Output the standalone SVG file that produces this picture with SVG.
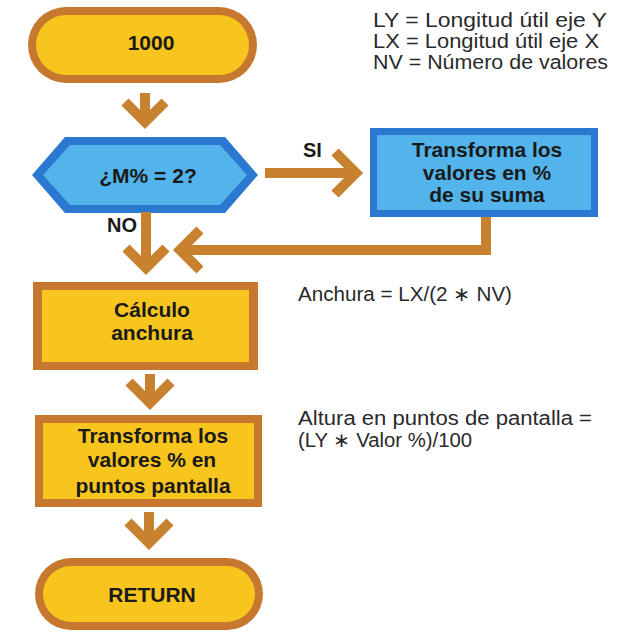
<svg xmlns="http://www.w3.org/2000/svg" width="621" height="632" viewBox="0 0 621 632">
<style>
.ob{fill:#c5782e}
.yf{fill:#f7c51e}
.db{fill:#2b78d0}
.lb{fill:#52b4ea}
.bt{font-family:"Liberation Sans",Arial,sans-serif;font-weight:bold;font-size:21px;fill:#1a1a1a;text-anchor:middle}
.lbl{font-family:"Liberation Sans",Arial,sans-serif;font-weight:bold;font-size:20px;fill:#1a1a1a}
.nt{font-family:"Liberation Sans",Arial,sans-serif;font-size:20px;fill:#2a2a2a}
.cn{fill:none;stroke:#c8812f;stroke-width:10;stroke-linejoin:miter;stroke-linecap:butt}
</style>
<rect width="621" height="632" fill="#ffffff"/>
<g id="start">
<rect class="ob" x="28" y="7" width="229" height="76" rx="38"/>
<rect class="yf" x="36" y="15" width="213" height="60" rx="30"/>
<text class="bt" x="151" y="50">1000</text>
</g>
<g id="decision">
<polygon class="db" points="32,175 65,137 225,137 258,175 225,213 65,213"/>
<polygon class="lb" points="43,175 70,145 220,145 247,175 220,205 70,205"/>
<text class="bt" x="148" y="183">¿M% = 2?</text>
</g>
<g id="transform-sum">
<rect class="db" x="370" y="128" width="228" height="89"/>
<rect class="lb" x="377" y="135" width="214" height="75"/>
<text class="bt" x="487" y="157">Transforma los</text>
<text class="bt" x="487" y="180">valores en %</text>
<text class="bt" x="487" y="202">de su suma</text>
</g>
<g id="calc-width">
<rect class="ob" x="33" y="282" width="225" height="88"/>
<rect class="yf" x="42" y="290" width="207" height="72"/>
<text class="bt" x="152" y="317">Cálculo</text>
<text class="bt" x="152" y="340">anchura</text>
</g>
<g id="transform-points">
<rect class="ob" x="35" y="415" width="227" height="92"/>
<rect class="yf" x="43" y="423" width="211" height="76"/>
<text class="bt" x="153" y="443">Transforma los</text>
<text class="bt" x="152" y="467">valores % en</text>
<text class="bt" x="153" y="493">puntos pantalla</text>
</g>
<g id="return">
<rect class="ob" x="35" y="558" width="228" height="72" rx="36"/>
<rect class="yf" x="43" y="566" width="212" height="56" rx="28"/>
<text class="bt" x="152" y="602">RETURN</text>
</g>
<g id="connectors">
<line class="cn" x1="145" y1="93" x2="145" y2="118"/>
<polyline class="cn" points="125,102 145,122 165,102"/>
<line class="cn" x1="265" y1="173" x2="352" y2="173"/>
<polyline class="cn" points="335,152 356,173 335,194"/>
<line class="cn" x1="146" y1="212" x2="146" y2="262"/>
<polyline class="cn" points="126,248 146,268 166,248"/>
<polyline class="cn" points="486,217 486,250 184,250"/>
<polyline class="cn" points="200,230 180,250 200,270"/>
<line class="cn" x1="150" y1="374" x2="150" y2="398"/>
<polyline class="cn" points="129,382 150,403 171,382"/>
<line class="cn" x1="149" y1="512" x2="149" y2="538"/>
<polyline class="cn" points="128,522 149,543 170,522"/>
</g>
<g id="labels">
<text class="lbl" x="303" y="157">SI</text>
<text class="lbl" x="107" y="232">NO</text>
</g>
<g id="notes">
<text class="nt" x="373" y="27" textLength="234" lengthAdjust="spacingAndGlyphs">LY = Longitud útil eje Y</text>
<text class="nt" x="373" y="48" textLength="226" lengthAdjust="spacingAndGlyphs">LX = Longitud útil eje X</text>
<text class="nt" x="373" y="69" textLength="235" lengthAdjust="spacingAndGlyphs">NV = Número de valores</text>
<text class="nt" x="298" y="301" textLength="214" lengthAdjust="spacingAndGlyphs">Anchura = LX/(2 ∗ NV)</text>
<text class="nt" x="298" y="425" textLength="294" lengthAdjust="spacingAndGlyphs">Altura en puntos de pantalla =</text>
<text class="nt" x="298" y="447" textLength="174" lengthAdjust="spacingAndGlyphs">(LY ∗ Valor %)/100</text>
</g>
</svg>
